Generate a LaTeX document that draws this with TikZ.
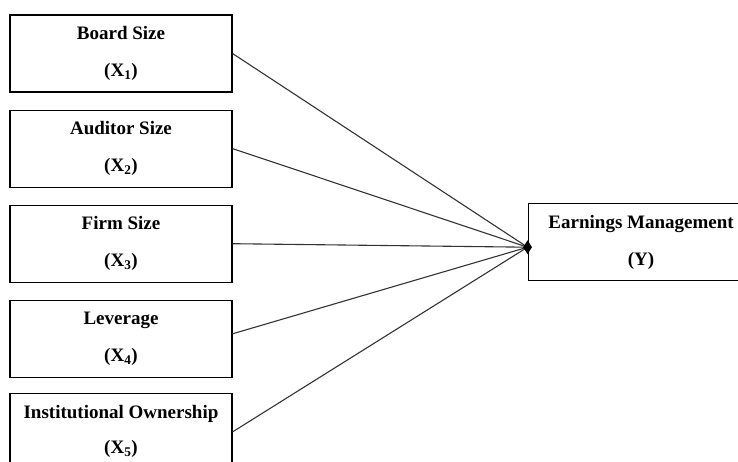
\documentclass[tikz,border=0pt]{standalone}
\usepackage{fontspec}
\setmainfont{Liberation Serif}
\usetikzlibrary{positioning,shapes.geometric}

\begin{document}
\begin{tikzpicture}[node distance=17pt,
	box/.style={draw,line width=1.1pt,minimum width=222pt,minimum height=77pt,inner sep=0pt,align=center,font=\fontsize{19}{37}\selectfont\bfseries},
	link/.style={draw=black!80,line width=1.1pt}]
	\clip (0,0) rectangle (738pt,-461pt);
	\node(x1)[box] at (121pt,-53.5pt){Board Size\\(X\textsubscript{1})};
	\node(x2)[box,below=of x1]{Auditor Size\\(X\textsubscript{2})};
	\node(x3)[box,below=of x2]{Firm Size\\(X\textsubscript{3})};
	\node(x4)[box,below=of x3]{Leverage\\(X\textsubscript{4})};
	\node(x5)[box,below=15pt of x4,font=\fontsize{19}{35}\selectfont\bfseries]{Institutional Ownership\\(X\textsubscript{5})};
	\node(y)[box,minimum width=226pt,right=295pt of x3,yshift=1.5pt]{Earnings Management\\(Y)};
	\coordinate(hub) at ([yshift=-5pt]y.west);

	\path[link]     (x1.east) edge (hub)
	                (x2.east) edge (hub)
	                (x3.east) edge (hub)
	                ([yshift=5pt]x4.east) edge (hub)
	                (x5.east) edge (hub);
	\node(tip)[diamond,fill=black,inner sep=0pt,minimum width=9pt,minimum height=14pt] at (hub){};
\end{tikzpicture}
\end{document}
